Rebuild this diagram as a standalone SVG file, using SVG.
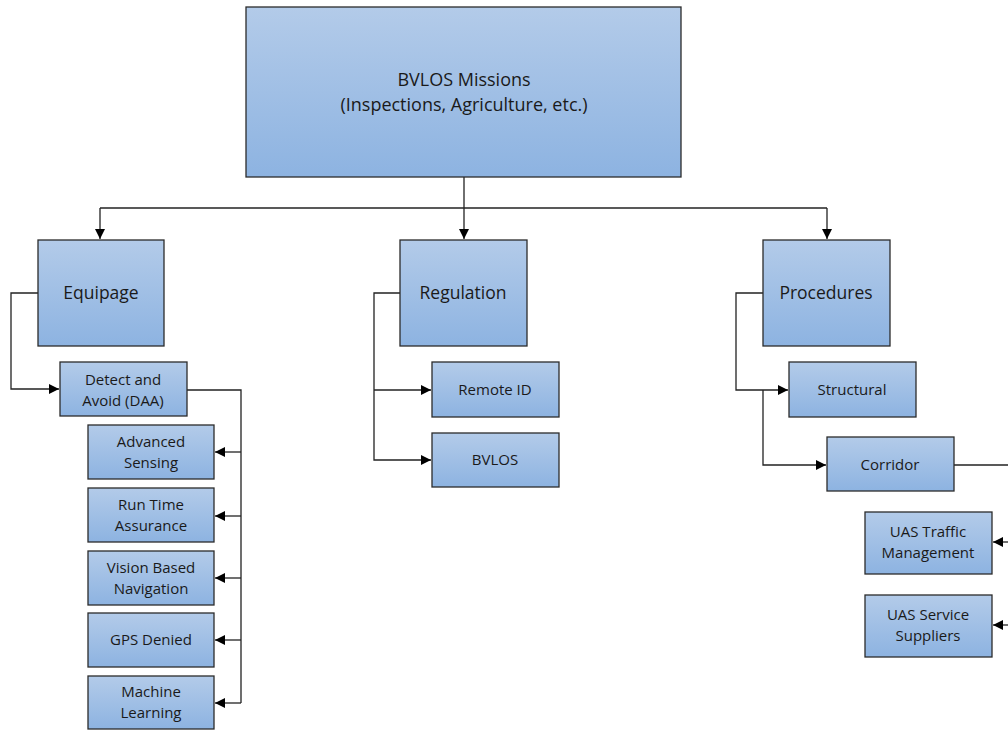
<svg xmlns="http://www.w3.org/2000/svg" width="1008" height="730" viewBox="0 0 1008 730">
<defs>
<linearGradient id="g" x1="0" y1="0" x2="0" y2="1">
<stop offset="0" stop-color="#b3cbe9"/>
<stop offset="1" stop-color="#8db3e1"/>
</linearGradient>
<marker id="a" viewBox="0 0 10 10" refX="10" refY="5" markerWidth="10" markerHeight="10" markerUnits="userSpaceOnUse" orient="auto">
<path d="M0,0 L10,5 L0,10 z" fill="#000"/>
</marker>
<style>
.b{fill:url(#g);stroke:#2b2b2b;stroke-width:1.3}
.t{font-family:"Open Sans","Liberation Sans",sans-serif;fill:#1a1a1a;text-anchor:middle}
.s{font-size:15px}
.m{font-size:17.5px}
.c{fill:none;stroke:#222;stroke-width:1.3}
</style>
</defs>
<rect width="1008" height="730" fill="#fff"/>
<g id="connectors">
<path class="c" d="M464,177 V208"/>
<path class="c" d="M100,208 H827"/>
<path class="c" d="M100,208 V239" marker-end="url(#a)"/>
<path class="c" d="M464,208 V239" marker-end="url(#a)"/>
<path class="c" d="M827,208 V239" marker-end="url(#a)"/>
<path class="c" d="M38,293 H11 V389 H59" marker-end="url(#a)"/>
<path class="c" d="M187,390 H241 V703"/>
<path class="c" d="M241,452 H215" marker-end="url(#a)"/>
<path class="c" d="M241,516 H215" marker-end="url(#a)"/>
<path class="c" d="M241,578 H215" marker-end="url(#a)"/>
<path class="c" d="M241,640 H215" marker-end="url(#a)"/>
<path class="c" d="M241,703 H215" marker-end="url(#a)"/>
<path class="c" d="M400,293 H374 V460 H431" marker-end="url(#a)"/>
<path class="c" d="M374,390 H431" marker-end="url(#a)"/>
<path class="c" d="M763,293 H736 V390 H788" marker-end="url(#a)"/>
<path class="c" d="M763,390 V465 H826" marker-end="url(#a)"/>
<path class="c" d="M954,465 H1008"/>
<path class="c" d="M1008,542 H993" marker-end="url(#a)"/>
<path class="c" d="M1008,625 H993" marker-end="url(#a)"/>
</g>
<g id="missions"><rect class="b" x="246" y="7" width="435" height="170"/>
<text class="t" x="464" y="86" font-size="18">BVLOS Missions</text>
<text class="t" x="464" y="111" font-size="18">(Inspections, Agriculture, etc.)</text></g>
<g id="equipage"><rect class="b" x="38" y="240" width="126" height="106"/>
<text class="t m" x="101" y="299">Equipage</text></g>
<g id="regulation"><rect class="b" x="400" y="240" width="127" height="106"/>
<text class="t m" x="463" y="299">Regulation</text></g>
<g id="procedures"><rect class="b" x="763" y="240" width="127" height="106"/>
<text class="t m" x="826" y="299">Procedures</text></g>
<g id="daa"><rect class="b" x="60" y="362" width="127" height="54"/>
<text class="t s" x="123" y="385">Detect and</text>
<text class="t s" x="123" y="406">Avoid (DAA)</text></g>
<g id="advanced"><rect class="b" x="88" y="425" width="126" height="54"/>
<text class="t s" x="151" y="447">Advanced</text>
<text class="t s" x="151" y="468">Sensing</text></g>
<g id="runtime"><rect class="b" x="88" y="488" width="126" height="54"/>
<text class="t s" x="151" y="510">Run Time</text>
<text class="t s" x="151" y="531">Assurance</text></g>
<g id="vision"><rect class="b" x="88" y="551" width="126" height="54"/>
<text class="t s" x="151" y="573">Vision Based</text>
<text class="t s" x="151" y="594">Navigation</text></g>
<g id="gps"><rect class="b" x="88" y="613" width="126" height="54"/>
<text class="t s" x="151" y="645">GPS Denied</text></g>
<g id="ml"><rect class="b" x="88" y="676" width="126" height="53"/>
<text class="t s" x="151" y="697">Machine</text>
<text class="t s" x="151" y="718">Learning</text></g>
<g id="remoteid"><rect class="b" x="432" y="362" width="127" height="55"/>
<text class="t s" x="495" y="395">Remote ID</text></g>
<g id="bvlos"><rect class="b" x="432" y="433" width="127" height="54"/>
<text class="t s" x="495" y="465">BVLOS</text></g>
<g id="structural"><rect class="b" x="789" y="362" width="127" height="55"/>
<text class="t s" x="852" y="395">Structural</text></g>
<g id="corridor"><rect class="b" x="827" y="437" width="127" height="54"/>
<text class="t s" x="890" y="470">Corridor</text></g>
<g id="utm"><rect class="b" x="865" y="512" width="127" height="62"/>
<text class="t s" x="928" y="537">UAS Traffic</text>
<text class="t s" x="928" y="558">Management</text></g>
<g id="uss"><rect class="b" x="865" y="595" width="127" height="62"/>
<text class="t s" x="928" y="620">UAS Service</text>
<text class="t s" x="928" y="641">Suppliers</text></g>
</svg>
